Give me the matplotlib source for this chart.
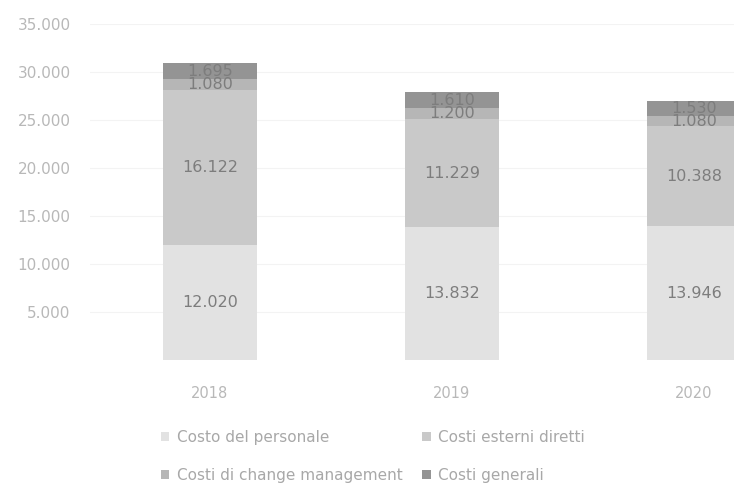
import matplotlib
matplotlib.use("Agg")
import matplotlib.pyplot as plt
import numpy as np

years = ["2018", "2019", "2020"]
costo_personale = [12020, 13832, 13946]
costi_esterni = [16122, 11229, 10388]
costi_change = [1080, 1200, 1080]
costi_generali = [1695, 1610, 1530]

series_names = ["Costo del personale", "Costi esterni diretti",
                "Costi di change management", "Costi generali"]
series_values = [costo_personale, costi_esterni, costi_change, costi_generali]
series_colors = ["#e2e2e2", "#c9c9c9", "#b6b6b6", "#949494"]

yticks = [5000, 10000, 15000, 20000, 25000, 30000, 35000]
ytick_labels = ["5.000", "10.000", "15.000", "20.000", "25.000", "30.000", "35.000"]

plt.rcParams["font.family"] = ["DejaVu Sans"]

fig = plt.figure(figsize=(7.34, 4.86), dpi=100)
W, H = 734, 486
left_px, right_px = 90, 734
top_px, bottom_px = 24, 360
ax = fig.add_axes([left_px / W, 1 - bottom_px / H,
                   (right_px - left_px) / W, (bottom_px - top_px) / H])

x = np.arange(len(years))
bar_w = 0.39
bottom = np.zeros(len(years))
handles = []
for name, vals, col in zip(series_names, series_values, series_colors):
    vals = np.array(vals, dtype=float)
    bars = ax.bar(x, vals, bar_w, bottom=bottom, color=col, label=name, zorder=2)
    handles.append(bars)
    for xi, b, v in zip(x, bottom, vals):
        ax.text(xi, b + v / 2, f"{int(v):,}".replace(",", "."),
                ha="center", va="center", fontsize=11.5, color="#7d7d7d", zorder=3)
    bottom += vals

ax.set_ylim(0, 35000)
ax.set_xlim((left_px - 210) / 242, (right_px - 210) / 242)
ax.set_yticks(yticks)
ax.set_yticklabels(ytick_labels)
ax.set_xticks(x)
ax.set_xticklabels(years)
ax.tick_params(axis="both", length=0, colors="#b8b8b8", labelsize=10.5)
ax.tick_params(axis="y", labelsize=11, pad=14)
ax.tick_params(axis="x", pad=19)
ax.grid(axis="y", color="#f3f3f3", linewidth=0.8, zorder=0)
for s in ax.spines.values():
    s.set_visible(False)

# legend filled row by row: two entries per row
order = [0, 2, 1, 3]
leg = fig.legend([handles[i] for i in order], [series_names[i] for i in order],
                 ncol=2, loc="upper left",
                 bbox_to_anchor=(147 / W, 1 - 416 / H), frameon=False,
                 fontsize=11, handlelength=0.55, handleheight=0.55,
                 handletextpad=0.5, columnspacing=1.3, labelspacing=1.5)
for t in leg.get_texts():
    t.set_color("#a8a8a8")

fig.savefig("out.png", dpi=100)
